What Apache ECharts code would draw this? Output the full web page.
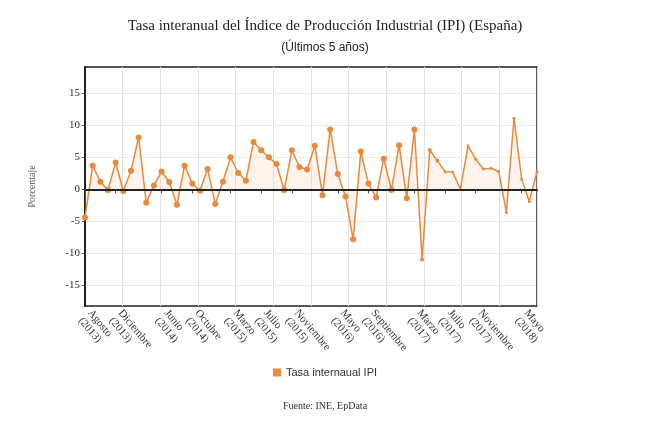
<!DOCTYPE html>
<html>
<head>
<meta charset="utf-8">
<script src="https://cdn.jsdelivr.net/npm/echarts@6/dist/echarts.min.js"></script>
<style>
  html, body { margin: 0; padding: 0; background: #fff; }
  #chart { width: 650px; height: 438px; }
</style>
</head>
<body>
<div id="chart"></div>
<script>
// meses, agosto 2013 - julio 2018
var monthNames = ['Enero','Febrero','Marzo','Abril','Mayo','Junio','Julio','Agosto','Septiembre','Octubre','Noviembre','Diciembre'];
var startMonth = 7, startYear = 2013;

// tasa interanual IPI (%)
var ipiValues = [
  -4.4, 3.7, 1.2, -0.1, 4.2, -0.25, 2.9, 8.1, -2.1, 0.6,
  2.8, 1.15, -2.4, 3.7, 0.9, -0.2, 3.2, -2.3, 1.2, 5.0,
  2.55, 1.35, 7.4, 6.1, 5.0, 3.95, -0.1, 6.1, 3.5, 3.1,
  6.8, -0.9, 9.35, 2.4, -1.1, -7.8, 5.9, 0.9, -1.25, 4.8,
  -0.1, 6.9, -1.4, 9.35, -10.95, 6.15, 4.45, 2.75, 2.7, 0.05,
  6.8, 4.7, 3.2, 3.3, 2.8, -3.6, 11.1, 1.6, -1.9, 2.8
];

// meses con etiqueta en el eje
var labelIndexes = [0, 4, 10, 14, 19, 23, 27, 33, 37, 43, 47, 51, 57];
var yTicks = [-15, -10, -5, 0, 5, 10, 15];

var categories = [];
for (var i = 0; i < ipiValues.length; i++) {
  var m = (startMonth + i) % 12;
  var y = startYear + Math.floor((startMonth + i) / 12);
  categories.push(monthNames[m] + '\n(' + y + ')');
}

var orange = '#e8893c';
var myChart = echarts.init(document.getElementById('chart'));
var option = {
  backgroundColor: '#fff',
  title: [
    {
      text: 'Tasa interanual del Índice de Producción Industrial (IPI) (España)',
      left: 'center', top: 14,
      textStyle: { fontFamily: 'Liberation Serif', fontSize: 15, fontWeight: 'normal', color: '#222' }
    },
    {
      text: '(Últimos 5 años)',
      left: 'center', top: 37,
      textStyle: { fontFamily: 'Liberation Sans', fontSize: 12, fontWeight: 'normal', color: '#222' }
    },
    {
      text: 'Fuente: INE, EpData',
      left: 'center', top: 396,
      textStyle: { fontFamily: 'Liberation Serif', fontSize: 10, fontWeight: 'normal', color: '#333' }
    }
  ],
  legend: {
    top: 362, left: 'center',
    icon: 'rect', itemWidth: 8, itemHeight: 8, itemGap: 6,
    textStyle: { fontFamily: 'Liberation Sans', fontSize: 11, color: '#333' },
    data: ['Tasa internaual IPI']
  },
  grid: {
    left: 85, right: 113, top: 67, bottom: 132,
    show: true, borderColor: '#222', borderWidth: 1.5
  },
  xAxis: [
    {
      type: 'category',
      boundaryGap: false,
      data: categories,
      axisLine: { show: true, lineStyle: { color: '#222', width: 2 } },
      axisTick: {
        show: true, length: 4, lineStyle: { color: '#444' },
        interval: function (idx) { return labelIndexes.indexOf(idx) >= 0; }
      },
      axisLabel: {
        interval: 0,
        formatter: function (val, idx) { return labelIndexes.indexOf(idx) >= 0 ? val : ''; },
        hideOverlap: false,
        rotate: -50, margin: 9,
        fontFamily: 'Liberation Serif', fontSize: 11, color: '#333', lineHeight: 12
      },
      splitLine: { show: false }
    },
    {
      type: 'value', min: 0, max: 12, interval: 1,
      position: 'bottom',
      axisLine: { show: false }, axisTick: { show: false }, axisLabel: { show: false },
      splitLine: { show: true, lineStyle: { color: '#e2e2e2', width: 1 } }
    }
  ],
  yAxis: {
    type: 'value',
    min: -18.2, max: 19.1,
    name: 'Porcentaje',
    nameLocation: 'middle', nameGap: 48, nameRotate: 90,
    nameTextStyle: { fontFamily: 'Liberation Serif', fontSize: 10, color: '#555' },
    axisLine: { show: true, lineStyle: { color: '#222', width: 2 } },
    axisTick: { show: true, length: 3, customValues: yTicks, lineStyle: { color: '#444' } },
    axisLabel: { customValues: yTicks, fontFamily: 'Liberation Serif', fontSize: 11, color: '#333', margin: 5 },
    splitLine: { show: true, customValues: yTicks, lineStyle: { color: '#d8d8d8', type: 'dotted', width: 1 } }
  },
  series: [
    {
      name: 'Tasa internaual IPI',
      type: 'line',
      data: ipiValues,
      symbol: 'circle',
      showSymbol: true,
      showAllSymbol: true,
      symbolSize: function (v, p) { return p.dataIndex <= 43 ? 6 : (p.dataIndex <= 46 ? 4 : 3); },
      itemStyle: { color: orange },
      lineStyle: { color: orange, width: 1.5 },
      areaStyle: { color: 'rgba(250,210,180,0.35)' },
      markLine: {
        silent: true, symbol: 'none', label: { show: false },
        lineStyle: { color: '#222', width: 2, type: 'solid' },
        data: [{ yAxis: 0 }]
      },
      z: 3
    }
  ]
};

myChart.setOption(option);
</script>
</body>
</html>
